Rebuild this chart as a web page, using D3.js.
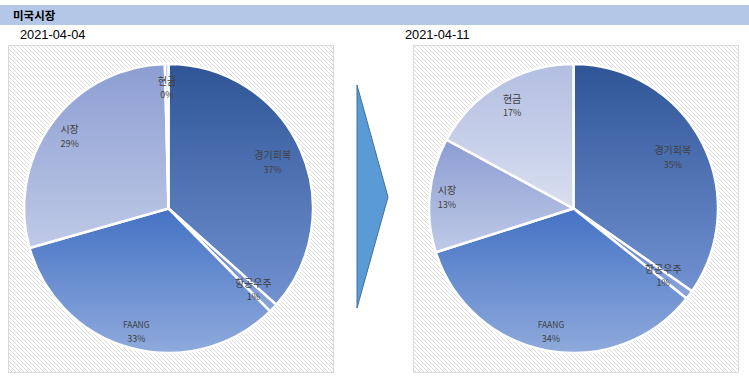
<!DOCTYPE html>
<html><head><meta charset="utf-8">
<script src="https://cdn.jsdelivr.net/npm/d3@7"></script>
<style>
html,body{margin:0;padding:0;background:#fff;}
svg{display:block;}
</style></head>
<body>
<svg id="chart" width="749" height="380"></svg>
<script>
// ---- data ----
const title = "미국시장";
const categories = ["경기회복", "항공우주", "FAANG", "시장", "현금"];
const dates = ["2021-04-04", "2021-04-11"];
const valuesWeek1 = [36.6, 1.0, 33.0, 29.0, 0.4];
const valuesWeek2 = [34.7, 1.0, 34.4, 12.8, 17.1];
const labelsWeek1 = ["37%", "1%", "33%", "29%", "0%"];
const labelsWeek2 = ["35%", "1%", "34%", "13%", "17%"];

// ---- layout / style ----
const gradStops = {
  "경기회복": ["#2f5597", "#7191d1"],
  "항공우주": ["#6080c6", "#8aa4da"],
  "FAANG":   ["#4472c4", "#8faadc"],
  "시장":    ["#8c9dd2", "#bfcae7"],
  "현금":    ["#b2bee1", "#d9dff0"]
};
const panels = [
  {date: dates[0], values: valuesWeek1, labels: labelsWeek1, box: [8, 45, 325, 327], cx: 168.5, cy: 208.5, dateX: 20,
   labelR: [0.79, 0.81, 0.875, 0.85, 0.84]},
  {date: dates[1], values: valuesWeek2, labels: labelsWeek2, box: [413, 45, 325, 327], cx: 573.5, cy: 208.5, dateX: 405,
   labelR: [0.775, 0.775, 0.86, 0.88, 0.83]}
];
const R = 144.5;

const svg = d3.select("#chart");
const defs = svg.append("defs");

// hatch pattern
const pat = defs.append("pattern").attr("id", "hatch").attr("patternUnits", "userSpaceOnUse")
  .attr("width", 4).attr("height", 4);
pat.append("rect").attr("width", 4).attr("height", 4).attr("fill", "#ffffff");
pat.append("path").attr("d", "M-1,-1 L5,5 M3,-1 L5,1 M-1,3 L1,5")
  .attr("stroke", "#dadada").attr("stroke-width", 1);

// gradients
categories.forEach((c, i) => {
  const g = defs.append("linearGradient").attr("id", "grad" + i)
    .attr("x1", 0).attr("y1", 0).attr("x2", 0).attr("y2", 1);
  g.append("stop").attr("offset", "0%").attr("stop-color", gradStops[c][0]);
  g.append("stop").attr("offset", "100%").attr("stop-color", gradStops[c][1]);
});

// header band
svg.append("rect").attr("x", 0).attr("y", 5).attr("width", 749).attr("height", 20).attr("fill", "#b4c7e7");
svg.append("text").attr("x", 13).attr("y", 19.5).text(title)
  .attr("font-family", "'Noto Sans CJK KR', sans-serif").attr("font-weight", "bold")
  .attr("font-size", 11.5).attr("fill", "#000");

// arrow
svg.append("polygon").attr("points", "357,85 388,197 357,308")
  .attr("fill", "#5b9bd5").attr("stroke", "#41719c").attr("stroke-width", 1);

const pie = d3.pie().sort(null).value(d => d);
const arc = d3.arc().innerRadius(0).outerRadius(R);

panels.forEach(p => {
  svg.append("text").attr("x", p.dateX).attr("y", 38.5).text(p.date)
    .attr("font-family", "'Liberation Sans', Arial, sans-serif").attr("font-size", 12.8).attr("fill", "#000");
  svg.append("rect").attr("x", p.box[0] + 0.5).attr("y", p.box[1] + 0.5)
    .attr("width", p.box[2]).attr("height", p.box[3])
    .attr("fill", "url(#hatch)").attr("stroke", "#d9d9d9").attr("stroke-width", 1);

  const g = svg.append("g").attr("transform", `translate(${p.cx},${p.cy})`);
  const arcs = pie(p.values);
  g.selectAll("path.slice").data(arcs).join("path").attr("class", "slice")
    .attr("d", arc)
    .attr("fill", (d, i) => `url(#grad${i})`)
    .attr("stroke", "#ffffff").attr("stroke-width", 2.5).attr("stroke-linejoin", "round");

  const lab = g.selectAll("g.lab").data(arcs).join("g").attr("class", "lab")
    .attr("transform", (d, i) => {
      const a = (d.startAngle + d.endAngle) / 2;
      const r = R * p.labelR[i];
      return `translate(${r * Math.sin(a)},${-r * Math.cos(a)})`;
    });
  lab.append("text").attr("y", -2.5).attr("text-anchor", "middle")
    .attr("font-family", "'Noto Sans CJK KR', sans-serif")
    .attr("font-size", (d, i) => categories[i] === "FAANG" ? 8.5 : 10)
    .attr("fill", "#404040").text((d, i) => categories[i]);
  lab.append("text").attr("y", 11).attr("text-anchor", "middle")
    .attr("font-family", "'Noto Sans CJK KR', sans-serif").attr("font-size", 9)
    .attr("fill", "#404040").text((d, i) => p.labels[i]);
});
</script>
</body></html>
